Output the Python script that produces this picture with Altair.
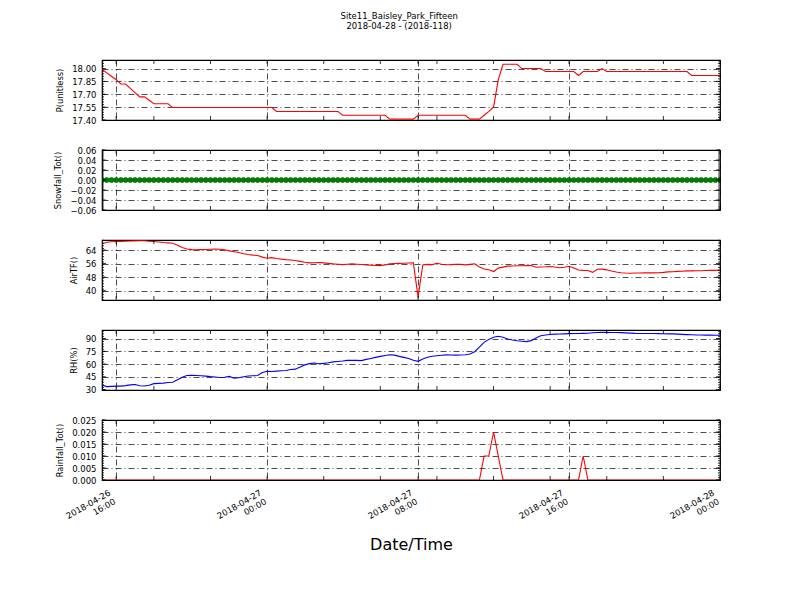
import altair as alt
import pandas as pd
import numpy as np

# ---------------- data (15-minute records) ----------------
START = "2018-04-26 15:15"
N_REC = 132

P_unitless = [
    17.99, 17.95, 17.91, 17.87, 17.82, 17.82, 17.77, 17.72, 17.67, 17.67, 17.63, 17.59,
    17.59, 17.59, 17.59, 17.545, 17.545, 17.545, 17.545, 17.545, 17.545, 17.545, 17.545, 17.545,
    17.545, 17.545, 17.545, 17.545, 17.545, 17.545, 17.545, 17.545, 17.545, 17.545, 17.545, 17.545,
    17.545, 17.50, 17.50, 17.50, 17.50, 17.50, 17.50, 17.50, 17.50, 17.50, 17.50, 17.50,
    17.50, 17.50, 17.50, 17.455, 17.455, 17.455, 17.455, 17.455, 17.455, 17.455, 17.455, 17.455,
    17.455, 17.41, 17.41, 17.41, 17.41, 17.41, 17.41, 17.455, 17.455, 17.455, 17.455, 17.455,
    17.455, 17.455, 17.455, 17.455, 17.455, 17.455, 17.41, 17.41, 17.41, 17.455, 17.50, 17.55,
    17.87, 18.05, 18.05, 18.05, 18.05, 18.00, 18.00, 18.00, 18.00, 18.00, 17.965, 17.965,
    17.965, 17.965, 17.965, 17.965, 17.965, 17.92, 17.965, 17.965, 17.965, 17.965, 18.00, 17.965,
    17.965, 17.965, 17.965, 17.965, 17.965, 17.965, 17.965, 17.965, 17.965, 17.965, 17.965, 17.965,
    17.965, 17.965, 17.965, 17.965, 17.965, 17.92, 17.92, 17.92, 17.92, 17.92, 17.92, 17.92,
]

Snowfall_Tot = [
    0, 0, 0, 0, 0, 0, 0, 0, 0, 0, 0, 0,
    0, 0, 0, 0, 0, 0, 0, 0, 0, 0, 0, 0,
    0, 0, 0, 0, 0, 0, 0, 0, 0, 0, 0, 0,
    0, 0, 0, 0, 0, 0, 0, 0, 0, 0, 0, 0,
    0, 0, 0, 0, 0, 0, 0, 0, 0, 0, 0, 0,
    0, 0, 0, 0, 0, 0, 0, 0, 0, 0, 0, 0,
    0, 0, 0, 0, 0, 0, 0, 0, 0, 0, 0, 0,
    0, 0, 0, 0, 0, 0, 0, 0, 0, 0, 0, 0,
    0, 0, 0, 0, 0, 0, 0, 0, 0, 0, 0, 0,
    0, 0, 0, 0, 0, 0, 0, 0, 0, 0, 0, 0,
    0, 0, 0, 0, 0, 0, 0, 0, 0, 0, 0, 0,
]

AirTF = [
    67.5, 68.6, 68.9, 69.0, 69.1, 69.2, 69.3, 69.4, 69.5, 69.5, 69.2, 69.0,
    68.7, 68.4, 68.2, 68.0, 66.8, 65.5, 64.6, 64.2, 64.1, 64.2, 64.3, 64.4,
    64.5, 64.4, 64.1, 63.5, 63.0, 62.5, 61.8, 61.3, 61.0, 60.8, 59.8, 59.1,
    59.5, 59.0, 58.6, 58.3, 58.1, 57.8, 57.3, 56.8, 56.4, 56.5, 56.6, 56.4,
    56.1, 55.8, 55.6, 55.4, 55.6, 55.8, 55.6, 55.4, 55.2, 55.1, 54.9, 54.8,
    55.2, 55.8, 56.0, 56.1, 56.2, 56.3, 56.4, 36.3, 55.2, 55.5, 55.4, 56.2,
    55.6, 55.3, 55.4, 55.6, 55.5, 55.2, 55.5, 55.8, 54.0, 52.8, 52.4, 51.3,
    53.3, 53.9, 54.5, 54.6, 54.7, 54.7, 54.8, 54.8, 53.8, 54.0, 54.1, 54.3,
    54.0, 53.5, 53.8, 54.4, 53.4, 52.2, 52.0, 51.9, 50.8, 52.6, 52.7, 52.3,
    51.6, 51.0, 50.6, 50.4, 50.3, 50.4, 50.4, 50.5, 50.5, 50.5, 50.6, 50.8,
    51.1, 51.2, 51.4, 51.5, 51.7, 51.7, 51.8, 51.8, 51.9, 52.0, 52.0, 52.1,
]

RH_pct = [
    35.5, 33.5, 33.8, 34.0, 34.0, 34.6, 35.5, 36.0, 34.5, 34.2, 35.0, 37.0,
    37.3, 37.6, 38.3, 38.6, 41.5, 44.5, 46.5, 46.7, 46.5, 46.3, 45.8, 45.2,
    44.8, 44.2, 44.5, 45.5, 43.3, 43.8, 45.0, 46.0, 46.2, 46.5, 50.0, 51.6,
    51.3, 51.7, 52.2, 52.5, 53.5, 54.0, 56.5, 59.0, 60.5, 61.3, 60.3, 60.8,
    61.5, 62.5, 63.0, 63.5, 64.3, 64.5, 64.3, 64.0, 65.5, 66.6, 67.8, 69.0,
    70.0, 71.0, 70.5, 69.0, 67.8, 66.6, 64.5, 63.2, 66.0, 68.0, 69.2, 69.8,
    70.3, 70.8, 70.6, 70.5, 70.6, 71.0, 71.8, 74.5, 80.0, 85.5, 89.0, 91.5,
    92.6, 91.5, 89.5, 88.3, 87.3, 86.8, 86.3, 87.5, 90.5, 93.2, 94.2, 94.8,
    95.1, 95.3, 95.5, 95.7, 95.8, 95.9, 96.0, 96.2, 96.8, 97.1, 97.2, 97.2,
    97.1, 97.0, 96.9, 96.6, 96.3, 96.0, 95.9, 95.8, 95.8, 95.8, 95.7, 95.6,
    95.5, 95.4, 95.2, 94.9, 94.6, 94.4, 94.2, 94.1, 94.0, 94.0, 93.9, 93.9,
]

Rainfall_Tot = [
    0, 0, 0, 0, 0, 0, 0, 0, 0, 0, 0, 0,
    0, 0, 0, 0, 0, 0, 0, 0, 0, 0, 0, 0,
    0, 0, 0, 0, 0, 0, 0, 0, 0, 0, 0, 0,
    0, 0, 0, 0, 0, 0, 0, 0, 0, 0, 0, 0,
    0, 0, 0, 0, 0, 0, 0, 0, 0, 0, 0, 0,
    0, 0, 0, 0, 0, 0, 0, 0, 0, 0, 0, 0,
    0, 0, 0, 0, 0, 0, 0, 0, 0, 0.010, 0.010, 0.020,
    0.010, 0, 0, 0, 0, 0, 0, 0, 0, 0, 0, 0,
    0, 0, 0, 0, 0, 0, 0.010, 0, 0, 0, 0, 0,
    0, 0, 0, 0, 0, 0, 0, 0, 0, 0, 0, 0,
    0, 0, 0, 0, 0, 0, 0, 0, 0, 0, 0, 0,
]

X_MAJOR = ["2018-04-26T16:00:00", "2018-04-27T00:00:00", "2018-04-27T08:00:00",
           "2018-04-27T16:00:00", "2018-04-28T00:00:00"]
X_MINOR = ["2018-04-26T18:00:00", "2018-04-26T21:00:00", "2018-04-27T03:00:00",
           "2018-04-27T06:00:00", "2018-04-27T09:00:00", "2018-04-27T12:00:00",
           "2018-04-27T15:00:00", "2018-04-27T18:00:00", "2018-04-27T21:00:00"]

TITLE_LINES = ["Site11_Baisley_Park_Fifteen", "2018-04-28 - (2018-118)"]

# ---------------- build ----------------
times = pd.date_range(START, periods=N_REC, freq="15min").strftime("%Y-%m-%dT%H:%M:%S")
df = pd.DataFrame({"t": times, "P": P_unitless, "Snow": Snowfall_Tot,
                   "AirT": AirTF, "RH": RH_pct, "Rain": Rainfall_Tot})
xticks_df = pd.DataFrame({"t": X_MAJOR + X_MINOR})

FONT = "DejaVu Sans"
W, H = 618, 60
DASH = [6, 3, 1, 3]


def dtm(y, m, d, h, mi=0):
    return alt.DateTime(year=y, month=m, date=d, hours=h, minutes=mi)


X_DOMAIN = [dtm(2018, 4, 26, 15, 15), dtm(2018, 4, 28, 0)]
X_MAJOR_DT = [dtm(2018, 4, 26, 16), dtm(2018, 4, 27, 0), dtm(2018, 4, 27, 8),
              dtm(2018, 4, 27, 16), dtm(2018, 4, 28, 0)]
xscale = alt.Scale(domain=X_DOMAIN, nice=False)


def panel(field, ylabel, dom, majors, fmt, color, bottom=False, points=False):
    ys = alt.Scale(domain=dom, nice=False, zero=False)
    step = majors[1] - majors[0]
    minors = [float(v) for v in np.arange(dom[0], dom[1] + 1e-9, step / 5.0)]
    if bottom:
        xaxis = alt.Axis(values=X_MAJOR_DT, grid=True, gridColor="black", gridDash=DASH,
                         gridWidth=0.7, ticks=False, tickSize=0, domain=False,
                         labelExpr="[timeFormat(datum.value, '%Y-%m-%d'), timeFormat(datum.value, '%H:%M')]",
                         labelAngle=330, labelAlign="right", labelBaseline="top",
                         labelPadding=8, labelOffset=-9, labelFontSize=8.5, labelLineHeight=10,
                         labelOverlap=False, labelFlush=False,
                         title="Date/Time", titleFontSize=16, titlePadding=8,
                         titleFontWeight="normal")
    else:
        xaxis = alt.Axis(values=X_MAJOR_DT, grid=True, gridColor="black", gridDash=DASH,
                         gridWidth=0.7, ticks=False, tickSize=0, domain=False,
                         labels=False, title=None)
    yaxis = alt.Axis(values=majors, format=fmt, grid=True, gridColor="black",
                     gridDash=DASH, gridWidth=0.7, ticks=False, tickSize=0,
                     domain=False, labelPadding=6, labelFontSize=8.5,
                     title=ylabel, titleFontSize=8.3, titlePadding=7,
                     titleFontWeight="normal", labelFlush=False, labelOverlap=False)

    X = alt.X("t:T", scale=xscale, axis=xaxis)
    base = alt.Chart(df)
    line = base.mark_line(color=color, strokeWidth=1.1, clip=True).encode(
        x=X, y=alt.Y(f"{field}:Q", scale=ys, axis=yaxis))
    layers = [line]
    if points:
        layers.append(base.mark_point(filled=True, color=color, size=26, opacity=1,
                                      stroke="#006000", strokeWidth=0.6,
                                      clip=True).encode(
            x=X, y=alt.Y(f"{field}:Q", scale=ys, axis=yaxis)))

    xt = alt.Chart(xticks_df)
    for y0, y1 in [(0, 4), (H - 4, H)]:
        layers.append(xt.mark_rule(color="black", strokeWidth=0.8).encode(
            x=X, y=alt.value(y0), y2=alt.value(y1)))

    maj_df = pd.DataFrame({"v": majors})
    min_df = pd.DataFrame({"v": minors})
    for d, ln in [(maj_df, 4), (min_df, 2)]:
        for x0, x1 in [(0, ln), (W - ln, W)]:
            layers.append(alt.Chart(d).mark_rule(color="black", strokeWidth=0.8).encode(
                y=alt.Y("v:Q", scale=ys, axis=yaxis),
                x=alt.value(x0), x2=alt.value(x1)))

    return alt.layer(*layers).properties(width=W, height=H)


panels = [
    panel("P", "P(unitless)", [17.40, 18.10], [17.40, 17.55, 17.70, 17.85, 18.00], ".2f", "#ff0000"),
    panel("Snow", "Snowfall_Tot()", [-0.06, 0.06], [-0.06, -0.04, -0.02, 0.0, 0.02, 0.04, 0.06], ".2f", "#008000", points=True),
    panel("AirT", "AirTF()", [34.5, 69.9], [40, 48, 56, 64], "d", "#ff0000"),
    panel("RH", "RH(%)", [29.5, 100], [30, 45, 60, 75, 90], "d", "#0000ff"),
    panel("Rain", "Rainfall_Tot()", [0, 0.025], [0.0, 0.005, 0.010, 0.015, 0.020, 0.025], ".3f", "#ff0000", bottom=True),
]

chart = alt.vconcat(*panels, spacing=30, bounds="flush").properties(
    title=alt.TitleParams(TITLE_LINES, fontSize=8.5, font=FONT, fontWeight="normal",
                          anchor="middle", lineHeight=10, offset=29, dx=12, color="black"),
    padding={"left": 45, "top": 3, "right": 5, "bottom": 5},
    background="white",
).configure_view(stroke="black", strokeWidth=1.2).configure_axis(
    labelFont=FONT, titleFont=FONT, labelColor="black", titleColor="black"
)

chart.save("out.html", embed_options={"renderer": "svg", "actions": False})
